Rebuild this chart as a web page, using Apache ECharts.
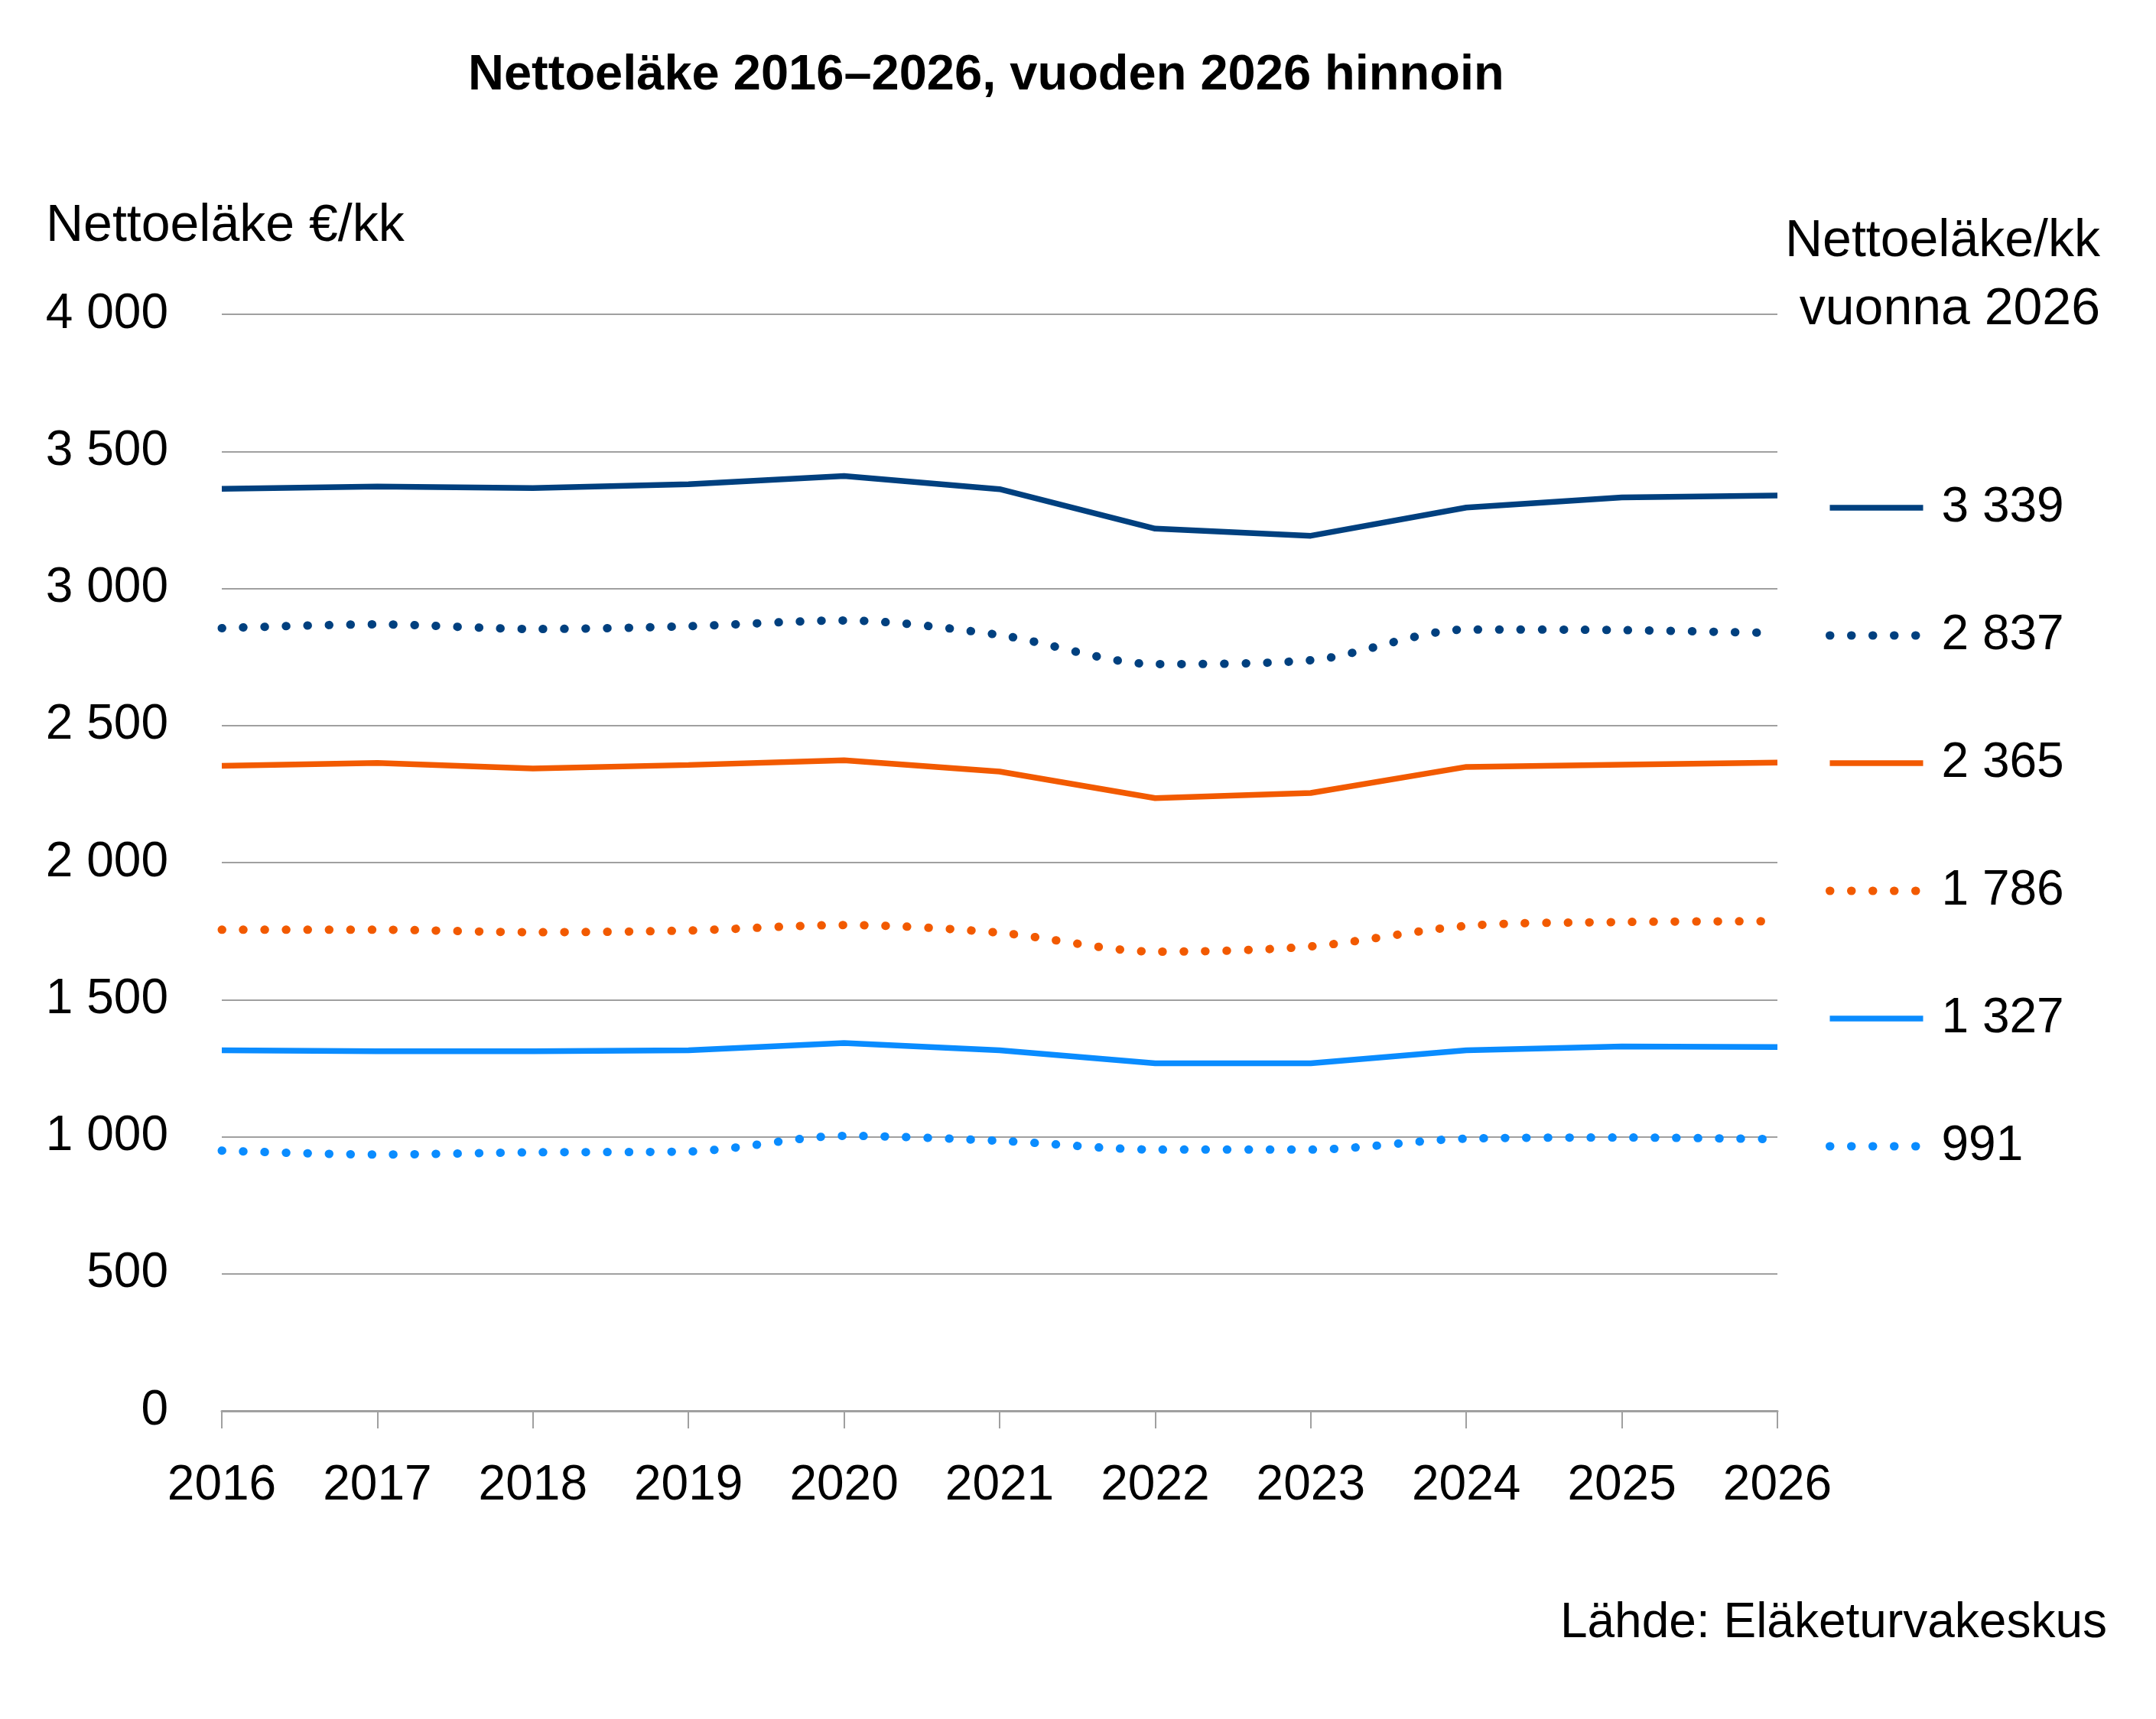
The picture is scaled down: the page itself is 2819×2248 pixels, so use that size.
<!DOCTYPE html>
<html>
<head>
<meta charset="utf-8">
<script src="https://cdn.jsdelivr.net/npm/echarts@6/dist/echarts.min.js"></script>
<style>
html,body{margin:0;padding:0;background:#fff;}
#chart{width:2819px;height:2248px;}
</style>
</head>
<body>
<div id="chart"></div>
<script>
var years = ['2016','2017','2018','2019','2020','2021','2022','2023','2024','2025','2026'];
var yTicks = [0, 500, 1000, 1500, 2000, 2500, 3000, 3500, 4000];
var darkSolid   = [3363, 3372, 3366, 3380, 3410, 3362, 3218, 3192, 3295, 3332, 3339];
var darkDotted  = [2855, 2869, 2852, 2862, 2883, 2830, 2724, 2738, 2850, 2848, 2837];
var orangeSolid = [2353, 2363, 2343, 2356, 2373, 2332, 2235, 2254, 2349, 2357, 2365];
var orangeDotted= [1755, 1755, 1746, 1752, 1772, 1744, 1675, 1694, 1769, 1783, 1786];
var lightSolid  = [1315, 1312, 1312, 1315, 1342, 1315, 1268, 1268, 1315, 1329, 1327];
var lightDotted = [949, 935, 943, 946, 1003, 985, 953, 953, 993, 997, 991];

var titleText = 'Nettoeläke 2016–2026, vuoden 2026 hinnoin';
var yName = 'Nettoeläke €/kk';
var legendHeader = ['Nettoeläke/kk', 'vuonna 2026'];
var sourceText = 'Lähde: Eläketurvakeskus';

var DARK = '#00407f', ORANGE = '#f25a00', LIGHT = '#0a8cff';
var FONT = 'Liberation Sans';

function fmt(v){ return String(v).replace(/\B(?=(\d{3})+(?!\d))/g, ' '); }

var defs = [
  {data: darkSolid, color: DARK, dotted: false},
  {data: darkDotted, color: DARK, dotted: true},
  {data: orangeSolid, color: ORANGE, dotted: false},
  {data: orangeDotted, color: ORANGE, dotted: true},
  {data: lightSolid, color: LIGHT, dotted: false},
  {data: lightDotted, color: LIGHT, dotted: true}
];

var series = defs.map(function(d){
  return {
    type: 'line',
    name: fmt(d.data[d.data.length-1]),
    data: d.data,
    symbol: 'none',
    smooth: d.dotted ? 0.3 : false,
    color: d.color,
    lineStyle: d.dotted
      ? {color: d.color, width: 11, type: [0.5, 27.5], cap: 'round'}
      : {color: d.color, width: 7.5, type: 'solid', cap: 'butt'},
    emphasis: {disabled: true},
    animation: false
  };
});

var legendData = defs.map(function(d){
  return {
    name: fmt(d.data[d.data.length-1]),
    lineStyle: d.dotted ? {width: 11} : {width: 7.5},
    itemStyle: {color: 'rgba(0,0,0,0)', borderWidth: 0, opacity: 0}
  };
});

var chart = echarts.init(document.getElementById('chart'), null, {renderer: 'canvas'});
chart.setOption({
  backgroundColor: '#ffffff',
  animation: false,
  grid: {left: 290, right: 495, top: 411, bottom: 403, containLabel: false},
  xAxis: {
    type: 'category',
    data: years,
    boundaryGap: false,
    axisLine: {show: true, lineStyle: {color: '#a0a0a0', width: 3}},
    axisTick: {show: true, length: 23, lineStyle: {color: '#a0a0a0', width: 2}},
    axisLabel: {color: '#000', fontFamily: FONT, fontSize: 64, margin: 66}
  },
  yAxis: {
    type: 'value',
    min: yTicks[0],
    max: yTicks[yTicks.length-1],
    interval: yTicks[1] - yTicks[0],
    axisLine: {show: false},
    axisTick: {show: false},
    splitLine: {show: true, lineStyle: {color: '#a0a0a0', width: 2}},
    axisLabel: {color: '#000', fontFamily: FONT, fontSize: 64, margin: 70, formatter: function(v){ return fmt(v); }}
  },
  legend: {
    orient: 'vertical',
    left: 2382,
    top: 624,
    itemWidth: 122,
    itemHeight: 20,
    itemGap: 97,
    data: legendData,
    selectedMode: false,
    textStyle: {color: '#000', fontFamily: FONT, fontSize: 64, lineHeight: 70, padding: [0, 0, 0, 19]}
  },
  graphic: [
    {type: 'text', top: 67, left: 612, style: {text: titleText, font: 'bold 65px "' + FONT + '"', fill: '#000'}},
    {type: 'text', style: {text: yName, x: 60, y: 296, font: '68px "' + FONT + '"', fill: '#000', align: 'left', verticalAlign: 'middle'}},
    {type: 'text', style: {text: legendHeader[0], x: 2746, y: 316, font: '68px "' + FONT + '"', fill: '#000', align: 'right', verticalAlign: 'middle'}},
    {type: 'text', style: {text: legendHeader[1], x: 2746, y: 405, font: '68px "' + FONT + '"', fill: '#000', align: 'right', verticalAlign: 'middle'}},
    {type: 'text', style: {text: sourceText, x: 2755, y: 2123, font: '64px "' + FONT + '"', fill: '#000', align: 'right', verticalAlign: 'middle'}}
  ],
  series: series
});
</script>
</body>
</html>
